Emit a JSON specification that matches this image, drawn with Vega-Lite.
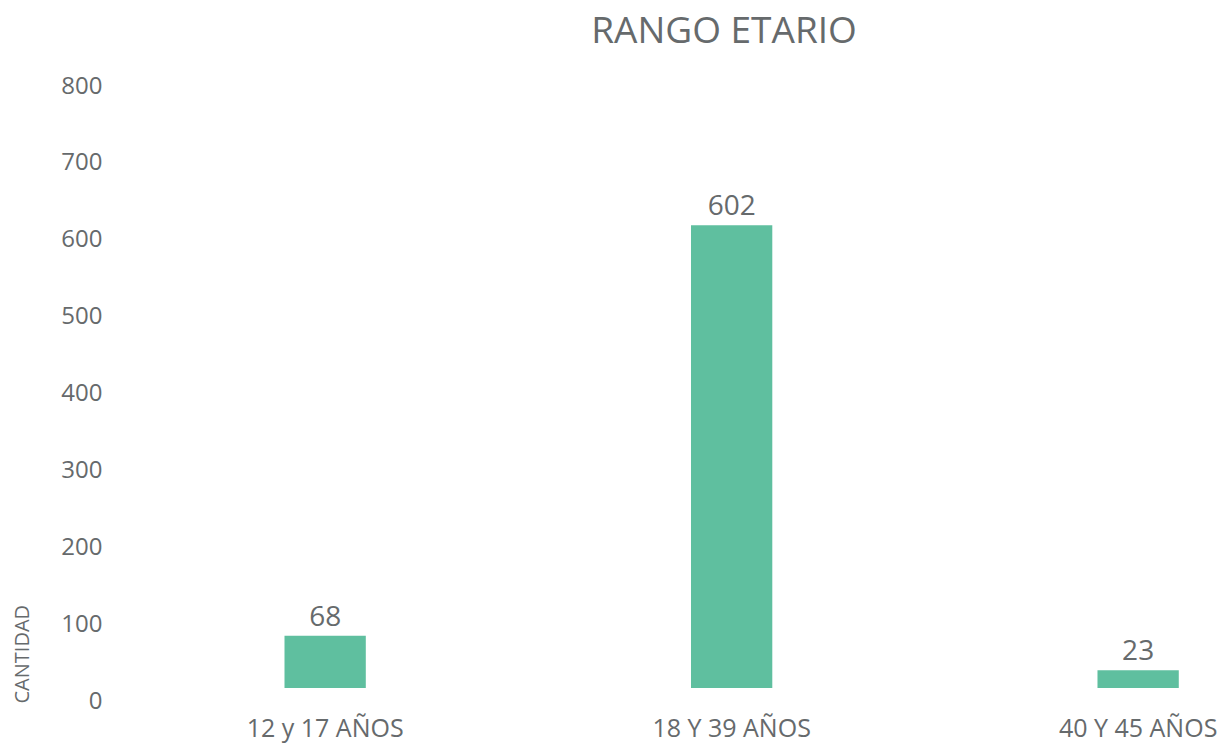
{
  "$schema": "https://vega.github.io/schema/vega-lite/v6.json",
  "autosize": {"type": "none"},
  "padding": {"left": 110, "top": 73, "right": 0, "bottom": 59},
  "width": 1112,
  "height": 615,
  "background": "white",
  "view": {"stroke": null},
  "title": {
    "text": "RANGO ETARIO",
    "fontSize": 37,
    "font": "Open Sans",
    "fontWeight": "normal",
    "color": "#666a6c",
    "anchor": "middle",
    "baseline": "alphabetic",
    "offset": -7,
    "dx": 58
  },
  "data": {
    "values": [
      {"rango": "12 y 17 AÑOS", "cantidad": 68},
      {"rango": "18 Y 39 AÑOS", "cantidad": 602},
      {"rango": "40 Y 45 AÑOS", "cantidad": 23}
    ]
  },
  "encoding": {
    "x": {
      "field": "rango",
      "type": "nominal",
      "sort": null,
      "scale": {"paddingInner": 0.8, "paddingOuter": 0.2678, "align": 0.8015},
      "axis": {
        "title": null,
        "labelAngle": 0,
        "ticks": false,
        "domain": false,
        "labelFont": "Open Sans",
        "labelFontSize": 25,
        "labelColor": "#666a6c",
        "labelPadding": 28
      }
    },
    "y": {
      "field": "cantidad",
      "type": "quantitative",
      "scale": {"domain": [0, 800], "nice": false},
      "axis": {
        "values": [0, 100, 200, 300, 400, 500, 600, 700, 800],
        "grid": false,
        "ticks": false,
        "domain": false,
        "labelFont": "Open Sans",
        "labelFontSize": 24,
        "labelColor": "#666a6c",
        "labelPadding": 8,
        "labelOffset": 13,
        "title": "CANTIDAD",
        "titleFont": "Open Sans",
        "titleFontSize": 20,
        "titleFontWeight": "normal",
        "titleColor": "#666a6c",
        "titleAngle": -90,
        "titleAlign": "left",
        "titleBaseline": "middle",
        "titleX": -88,
        "titleY": 630
      }
    }
  },
  "layer": [
    {"mark": {"type": "bar", "color": "#5fbf9f"}},
    {
      "mark": {
        "type": "text",
        "baseline": "alphabetic",
        "dy": -10,
        "font": "Open Sans",
        "fontSize": 28,
        "color": "#666a6c"
      },
      "encoding": {"text": {"field": "cantidad", "type": "quantitative"}}
    }
  ]
}
